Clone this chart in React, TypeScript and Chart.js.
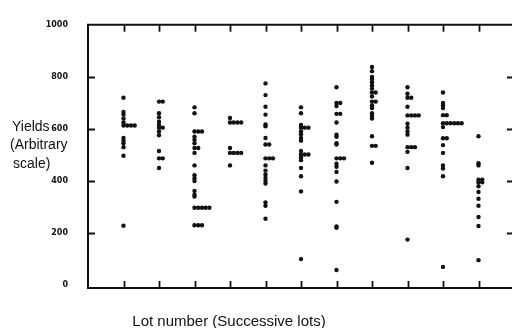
import React, { useEffect, useRef } from "react";
import { Chart, registerables } from "chart.js";

Chart.register(...registerables);

// Yields per lot (arbitrary scale). Repeated values are drawn side by side.
const lot1 = [720, 665, 655, 640, 625, 613, 613, 613, 613, 565, 555, 545, 530, 497, 228];
const lot2 = [705, 705, 660, 645, 628, 615, 605, 605, 590, 576, 515, 487, 487, 450];
const lot3 = [683, 660, 590, 590, 590, 570, 558, 545, 527, 527, 508, 460, 422, 410, 400, 362, 347, 340, 297, 297, 297, 297, 297, 230, 230, 230];
const lot4 = [642, 625, 625, 625, 625, 527, 508, 508, 508, 508, 460];
const lot5 = [775, 730, 685, 655, 617, 610, 565, 540, 540, 487, 487, 487, 460, 440, 425, 412, 400, 390, 318, 305, 255];
const lot6 = [683, 660, 615, 605, 605, 605, 590, 580, 565, 555, 515, 502, 502, 502, 490, 480, 450, 418, 360, 100];
const lot7 = [760, 700, 700, 688, 658, 658, 625, 578, 570, 545, 540, 487, 487, 487, 466, 455, 435, 398, 320, 225, 220, 58];
const lot8 = [838, 822, 800, 790, 779, 767, 755, 740, 740, 725, 705, 705, 690, 680, 660, 650, 640, 572, 535, 535, 470];
const lot9 = [760, 735, 720, 720, 685, 652, 652, 652, 652, 620, 605, 590, 578, 530, 530, 530, 512, 450, 175];
const lot10 = [740, 700, 690, 680, 653, 653, 622, 622, 622, 622, 622, 622, 607, 564, 564, 538, 508, 460, 448, 418, 70];
const lot11 = [572, 468, 460, 405, 405, 395, 395, 380, 358, 332, 305, 262, 227, 96];

const lots = [lot1, lot2, lot3, lot4, lot5, lot6, lot7, lot8, lot9, lot10, lot11];
const lotNumbers = [1, 2, 3, 4, 5, 6, 7, 8, 9, 10, 11];
const yTicks = [0, 200, 400, 600, 800, 1000];
const yTitleLines = ["Yields", "(Arbitrary", "scale)"];
const xTitle = "Lot number (Successive lots)";

const DUP_STEP = 0.105;

function buildPoints() {
  const pts: { x: number; y: number }[] = [];
  lots.forEach((vals, i) => {
    const seen: Record<number, number> = {};
    vals.forEach((v) => {
      const k = seen[v] || 0;
      seen[v] = k + 1;
      pts.push({ x: lotNumbers[i] + k * DUP_STEP, y: v });
    });
  });
  return pts;
}

const INK = "#111";

const framePlugin = {
  id: "frame",
  afterDraw(chart: any) {
    const ctx = chart.ctx;
    const { left, right, top, bottom } = chart.chartArea;
    const xs = chart.scales.x;
    const ys = chart.scales.y;
    ctx.save();
    ctx.strokeStyle = INK;
    ctx.lineWidth = 2;
    ctx.beginPath();
    ctx.moveTo(left, top);
    ctx.lineTo(right, top);
    ctx.lineTo(right, bottom);
    ctx.lineTo(left, bottom);
    ctx.closePath();
    ctx.stroke();
    // inward ticks
    ctx.lineWidth = 1.8;
    const tl = 7;
    ctx.beginPath();
    lotNumbers.forEach((n) => {
      const px = Math.round(xs.getPixelForValue(n)) + 0.5;
      ctx.moveTo(px, top);
      ctx.lineTo(px, top + tl);
      ctx.moveTo(px, bottom);
      ctx.lineTo(px, bottom - tl);
    });
    yTicks.forEach((v) => {
      if (v === 0 || v === 1000) return;
      const py = Math.round(ys.getPixelForValue(v)) + 0.5;
      ctx.moveTo(left, py);
      ctx.lineTo(left + tl, py);
      ctx.moveTo(right, py);
      ctx.lineTo(right - tl, py);
    });
    ctx.stroke();
    // titles
    ctx.fillStyle = INK;
    ctx.font = '14px "Liberation Sans", Arial, sans-serif';
    ctx.textBaseline = "alphabetic";
    ctx.textAlign = "left";
    ctx.fillText(yTitleLines[0], 12, 131);
    ctx.fillText(yTitleLines[1], 10, 149);
    ctx.fillText(yTitleLines[2], 13, 168);
    ctx.font = '15px "Liberation Sans", Arial, sans-serif';
    ctx.textAlign = "center";
    ctx.fillText(xTitle, 229, 326);
    ctx.restore();
  },
};

export default function App() {
  const ref = useRef<HTMLCanvasElement | null>(null);
  useEffect(() => {
    if (!ref.current) return;
    const chart = new Chart(ref.current, {
      type: "scatter",
      data: {
        datasets: [
          {
            data: buildPoints(),
            backgroundColor: INK,
            borderColor: INK,
            pointRadius: 2.2,
            pointBorderWidth: 0,
            pointHoverRadius: 2.2,
          },
        ],
      },
      options: {
        animation: false,
        responsive: false,
        events: [],
        layout: { padding: { top: 15, right: 16, left: 0, bottom: 0 } },
        plugins: { legend: { display: false }, tooltip: { enabled: false } },
        scales: {
          x: {
            type: "linear",
            min: 0,
            max: 12,
            grid: { display: false, drawTicks: false },
            border: { display: false },
            ticks: { display: false },
            afterFit(scale: any) {
              scale.height = 40;
            },
          },
          y: {
            type: "linear",
            min: -11,
            max: 1000,
            grid: { display: false, drawTicks: false },
            border: { display: false },
            afterBuildTicks(scale: any) {
              scale.ticks = yTicks.map((v) => ({ value: v }));
            },
            afterFit(scale: any) {
              scale.width = 88;
            },
            ticks: {
              padding: 20,
              color: INK,
              font: { family: '"DejaVu Sans", sans-serif', size: 8, weight: "bold" },
              callback: (v: any) => String(v),
            },
          },
        },
      },
      plugins: [framePlugin],
    });
    return () => chart.destroy();
  }, []);
  return (
    <div style={{ position: "fixed", left: 0, top: 0, width: 512, height: 328, overflow: "hidden", background: "#fff" }}>
      <canvas ref={ref} width={530} height={328} style={{ width: 530, height: 328, display: "block" }} />
    </div>
  );
}
